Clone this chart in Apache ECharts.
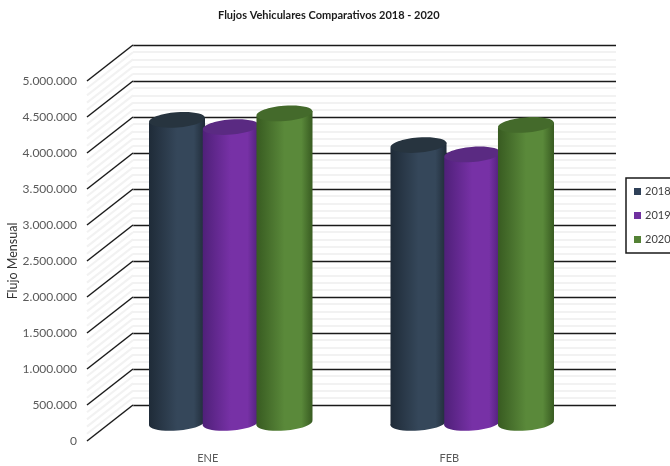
<!DOCTYPE html>
<html><head><meta charset="utf-8">
<style>html,body{margin:0;padding:0;background:#fff;overflow:hidden}#c{width:670px;height:466px}</style>
<script src="https://cdn.jsdelivr.net/npm/echarts@6/dist/echarts.min.js"></script>
</head><body><div id="c"></div>
<script>
const categories = ['ENE', 'FEB'];
const years = ['2018', '2019', '2020'];
const values2018 = [4210000, 3860000];
const values2019 = [4110000, 3730000];
const values2020 = [4300000, 4140000];
const tickStep = 500000;
const minorStep = 100000;
const axisMax = 5000000;

const font = 'Lato';
const depthX = 46, depthY = 36;
const plotW = 483, plotH = 360, frontLeft = 87, frontTop = 81;
const barWidth = 0.232, barSpacing = 0.2225, ellipseRatio = 0.135, tilt = 0.08;
const palette = {
  '2018': {legend:'#2f4058', edge:'#1f2b38', mid:'#35475a', top:'#27343f'},
  '2019': {legend:'#7030a0', edge:'#4f2079', mid:'#7731a6', top:'#5a2a82'},
  '2020': {legend:'#548235', edge:'#385b21', mid:'#5a893a', top:'#446a2b'}
};
const seriesValues = [values2018, values2019, values2020];

const chart = echarts.init(document.getElementById('c'), null, {renderer:'canvas'});
const dots = v => String(v).replace(/\B(?=(\d{3})+$)/g, '.');

function wallTicks(step){
  const out = [];
  for (let v = 0; v <= axisMax; v += step) out.push([0, v]);
  return out;
}
function diagonal(color, width){
  return (params, api) => {
    const p = api.coord([categories[0], api.value(1)]);
    const x0 = frontLeft, y0 = p[1];
    return {type:'line', shape:{x1:x0, y1:y0, x2:x0 + depthX, y2:y0 - depthY},
      style:{stroke:color, lineWidth:width}};
  };
}
function cylinder(idx, year){
  const c = palette[year];
  return (params, api) => {
    const i = api.value(0);
    const top = api.coord([i, api.value(1)]);
    const base = api.coord([i, 0]);
    const band = api.size([1, 0])[0];
    const w = band * barWidth, rx = w / 2, ry = rx * ellipseRatio * 2;
    const cx = top[0] + (idx - 1) * band * barSpacing;
    const dy = rx * Math.sin(tilt) * 1.1;
    const grad = {type:'linear', x:0, y:0, x2:1, y2:0, colorStops:[
      {offset:0, color:c.edge},{offset:.5, color:c.mid},
      {offset:.8, color:c.mid},{offset:1, color:c.edge}]};
    return {type:'group', children:[
      {type:'ellipse', rotation:tilt, originX:cx, originY:base[1], shape:{cx:cx, cy:base[1], rx:rx, ry:ry}, style:{fill:grad}},
      {type:'polygon', shape:{points:[[cx - rx, top[1] + dy],[cx + rx, top[1] - dy],[cx + rx, base[1] - dy],[cx - rx, base[1] + dy]]}, style:{fill:grad}},
      {type:'ellipse', rotation:tilt, originX:cx, originY:top[1], shape:{cx:cx, cy:top[1], rx:rx, ry:ry}, style:{fill:c.top}}
    ]};
  };
}

const grids = [
  {left:frontLeft + depthX, top:frontTop - depthY, width:plotW, height:plotH, outerBoundsMode:'none'},
  {left:frontLeft, top:frontTop, width:plotW, height:plotH, outerBoundsMode:'none'},
  {left:frontLeft + depthX / 2, top:frontTop - depthY / 2, width:plotW, height:plotH, outerBoundsMode:'none'}
];
const hiddenCat = i => ({type:'category', gridIndex:i, data:categories, axisLine:{show:false}, axisTick:{show:false}, axisLabel:{show:false}});
const baseVal = i => ({type:'value', gridIndex:i, min:0, max:axisMax, interval:tickStep, axisLine:{show:false}, axisTick:{show:false}, axisLabel:{show:false}, splitLine:{show:false}});

chart.setOption({
  animation:false,
  backgroundColor:'#fff',
  title:{text:'Flujos Vehiculares Comparativos 2018 - 2020', left:218, top:10, padding:0,
    textStyle:{fontFamily:font, fontSize:11, fontWeight:'bold', color:'#1a1a1a'}},
  legend:{data:years, orient:'vertical', left:626, top:178, padding:[8,12,8,8], itemGap:13,
    itemWidth:7, itemHeight:7, icon:'rect', borderColor:'#1a1a1a', borderWidth:1.5, backgroundColor:'#fff',
    textStyle:{fontFamily:font, fontSize:11, color:'#404040', padding:[0,0,0,-1]}, selectedMode:false},
  grid:grids,
  xAxis:[hiddenCat(0),
    {type:'category', gridIndex:1, data:categories, axisLine:{show:false}, axisTick:{show:false},
     axisLabel:{margin:12, fontFamily:font, fontSize:11, color:'#595959'}},
    hiddenCat(2)],
  yAxis:[
    Object.assign(baseVal(0), {minorTick:{show:false, splitNumber:tickStep / minorStep},
      splitLine:{show:true, lineStyle:{color:'#1a1a1a', width:1.4}},
      minorSplitLine:{show:true, lineStyle:{color:'#f2f2f2', width:2}}}),
    Object.assign(baseVal(1), {name:'Flujo Mensual', nameLocation:'middle', nameGap:68, nameRotate:90, nameMoveOverlap:false,
      nameTextStyle:{fontFamily:font, fontSize:12.5, color:'#333'},
      axisLabel:{show:true, margin:10, fontFamily:font, fontSize:12, color:'#595959', formatter:dots}}),
    baseVal(2)
  ],
  series:[
    {type:'custom', xAxisIndex:1, yAxisIndex:1, silent:true, data:wallTicks(minorStep), renderItem:diagonal('#f2f2f2', 2), encode:{y:1}, z:1},
    {type:'custom', xAxisIndex:1, yAxisIndex:1, silent:true, data:wallTicks(tickStep), renderItem:diagonal('#1a1a1a', 1.4), encode:{y:1}, z:2}
  ].concat(years.map((y, idx) => ({
    name:y, type:'custom', xAxisIndex:2, yAxisIndex:2, z:5 + idx,
    itemStyle:{color:palette[y].legend}, encode:{x:0, y:1},
    data:categories.map((c, k) => [k, seriesValues[idx][k]]),
    renderItem:cylinder(idx, y)
  })))
});
</script></body></html>
